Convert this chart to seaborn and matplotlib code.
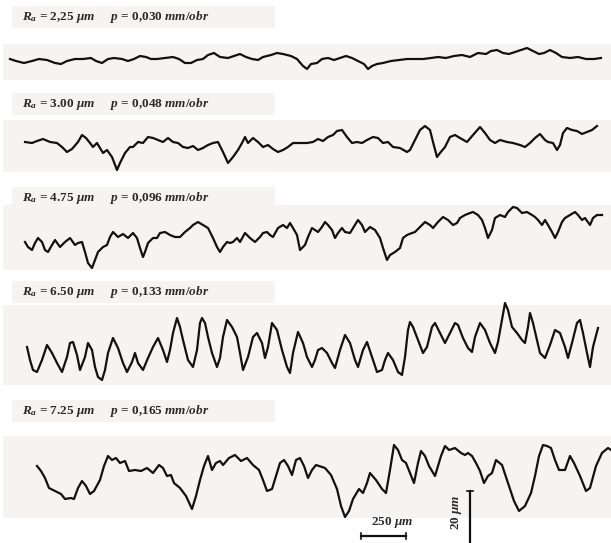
import matplotlib
matplotlib.use('Agg')
import matplotlib.pyplot as plt
import seaborn as sns
import pandas as pd

# surface profile traces (pixel units: position, trace height)
labels = [
    r'$R_a$ = 2,25 $\mu m$     $p$ = 0,030 $mm/obr$',
    r'$R_a$ = 3.00 $\mu m$     $p$ = 0,048 $mm/obr$',
    r'$R_a$ = 4.75 $\mu m$     $p$ = 0,096 $mm/obr$',
    r'$R_a$ = 6.50 $\mu m$     $p$ = 0,133 $mm/obr$',
    r'$R_a$ = 7.25 $\mu m$     $p$ = 0,165 $mm/obr$',
]
label_y = [17, 104, 198, 292, 411]

p1_x = [10, 16, 24, 32, 39, 47, 55, 61, 67, 75, 83, 91, 96, 102, 108, 114, 122, 128, 134, 140,
        146, 151, 157, 165, 173, 179, 185, 191, 197, 203, 208, 214, 220, 228, 234, 240, 246, 252,
        258, 263, 271, 277, 283, 291, 297, 303, 307, 311, 317, 322, 328, 334, 340, 346, 352, 358,
        364, 368, 372, 377, 383, 391, 399, 407, 415, 423, 431, 438, 446, 454, 462, 470, 478, 486,
        491, 497, 503, 509, 515, 521, 527, 533, 539, 544, 550, 556, 562, 570, 578, 586, 594, 601]
p1_y = [59, 61, 63, 61, 59, 60, 63, 64, 61, 59, 59, 58, 61, 63, 59, 58, 59, 61, 59, 56,
        57, 59, 59, 58, 57, 59, 63, 63, 60, 59, 55, 53, 57, 58, 56, 54, 57, 59,
        60, 57, 55, 53, 54, 56, 59, 66, 69, 64, 63, 59, 58, 60, 58, 56, 58, 61,
        64, 69, 66, 64, 63, 61, 60, 59, 59, 59, 58, 57, 58, 56, 55, 57, 53, 54,
        51, 50, 53, 54, 52, 50, 48, 51, 54, 53, 50, 53, 57, 58, 57, 59, 59, 58]

p2_x = [25, 32, 37, 43, 50, 57, 62, 67, 72, 78, 82, 86, 90, 93, 97, 100, 103, 107, 112, 117,
        120, 125, 130, 133, 138, 143, 148, 153, 158, 163, 168, 173, 178, 183, 188, 193, 198, 203,
        208, 213, 218, 223, 228, 233, 238, 242, 245, 248, 253, 258, 263, 268, 273, 278, 283, 288,
        293, 300, 307, 313, 318, 323, 328, 333, 337, 342, 347, 352, 357, 362, 367, 373, 378, 383,
        388, 393, 400, 407, 410, 415, 420, 425, 430, 433, 437, 440, 445, 450, 455, 460, 467, 473,
        480, 485, 490, 495, 500, 507, 513, 520, 525, 530, 535, 540, 545, 548, 553, 557, 560, 563,
        567, 572, 577, 582, 587, 592, 597]
p2_y = [142, 143, 141, 139, 142, 143, 147, 152, 149, 142, 135, 138, 143, 147, 143, 148, 153, 150, 157, 170,
        163, 153, 147, 147, 142, 143, 137, 138, 140, 142, 138, 142, 143, 147, 148, 146, 150, 148,
        145, 143, 142, 152, 163, 157, 150, 143, 137, 143, 138, 142, 147, 145, 149, 152, 150, 147,
        143, 143, 143, 142, 139, 141, 137, 135, 131, 130, 137, 143, 142, 143, 140, 137, 138, 143,
        142, 147, 148, 152, 150, 140, 130, 126, 130, 142, 157, 153, 147, 137, 135, 138, 142, 135,
        127, 133, 140, 143, 140, 142, 143, 145, 147, 143, 138, 134, 140, 142, 143, 150, 145, 133,
        128, 130, 131, 134, 132, 130, 126]

p3_x = [25, 28, 32, 35, 38, 42, 45, 48, 52, 55, 60, 65, 70, 75, 78, 82, 85, 88, 92, 95,
        98, 103, 107, 110, 113, 118, 123, 128, 133, 137, 140, 143, 145, 148, 153, 157, 160, 165,
        170, 175, 180, 185, 190, 193, 198, 203, 208, 213, 217, 220, 223, 227, 230, 233, 237, 240,
        245, 250, 255, 260, 263, 267, 270, 273, 278, 283, 287, 290, 293, 297,
        300, 305, 308, 312, 315, 318, 322, 325, 328, 332, 335, 338, 342, 345, 350, 355, 358, 362,
        365, 370, 375, 380, 383, 387, 390, 395, 400, 403, 407, 412, 415, 420, 425, 430, 433, 438,
        443, 448, 453, 457, 460, 465, 470, 473, 478, 482, 485, 488, 492, 495, 500, 505, 508, 513,
        517, 522, 527, 532, 535, 538, 542, 545, 548, 552, 555, 558, 562, 565, 570, 575, 578, 582,
        585, 590, 593, 597, 602]
p3_y = [242, 247, 250, 243, 238, 242, 250, 252, 245, 240, 247, 242, 238, 245, 243, 242, 252, 263, 268, 260,
        252, 247, 245, 237, 232, 237, 234, 238, 233, 238, 248, 257, 252, 243, 238, 238, 233, 232,
        235, 237, 237, 232, 228, 225, 222, 225, 228, 238, 247, 252, 247, 242, 243, 242, 238, 242,
        233, 238, 242, 237, 233, 232, 235, 237, 228, 225, 228, 223, 228, 235,
        250, 245, 237, 228, 230, 232, 227, 222, 225, 230, 238, 233, 228, 232, 233, 225, 220, 225,
        232, 227, 230, 238, 248, 260, 255, 252, 248, 238, 235, 233, 232, 227, 222, 225, 228, 222,
        217, 220, 225, 223, 218, 215, 213, 212, 215, 220, 228, 238, 230, 218, 215, 217, 212, 207,
        208, 213, 212, 215, 217, 220, 225, 220, 225, 232, 238, 232, 222, 218, 215, 212, 215, 220,
        218, 225, 218, 215, 215]

p4_x = [27, 30, 33, 37, 42, 47, 52, 57, 62, 67, 70, 73, 77, 80, 85, 88, 92, 95, 98, 102,
        105, 108, 113, 118, 123, 127, 132, 135, 138, 143, 148, 153, 158, 163, 167, 170, 173, 177,
        180, 183, 188, 193, 197, 200, 202, 205, 208, 212, 217, 220, 223, 227, 232, 237, 240, 243,
        248, 253, 257, 262, 265, 268, 272, 277, 282, 287, 290, 293, 298,
        303, 307, 312, 315, 318, 322, 327, 332, 335, 340, 345, 350, 355, 358, 363, 367, 372, 377,
        382, 385, 388, 393, 398, 402, 405, 408, 410, 413, 418, 423, 427, 432, 435, 440, 445, 450,
        455, 458, 463, 468, 472, 475, 480, 485, 490, 495, 498, 502, 505, 508, 512, 517, 522, 525,
        528, 530, 533, 537, 540, 545, 550, 555, 560, 565, 568, 572, 577, 580, 583, 587, 590, 593,
        598]
p4_y = [347, 360, 370, 372, 360, 345, 353, 363, 372, 357, 343, 342, 355, 370, 357, 343, 350, 367, 377, 380,
        370, 353, 338, 348, 363, 372, 362, 353, 363, 370, 358, 347, 338, 350, 362, 350, 333, 318,
        327, 340, 360, 367, 350, 323, 318, 323, 337, 353, 367, 358, 337, 320, 327, 337, 353, 370,
        357, 337, 333, 343, 358, 347, 323, 330, 350, 367, 373, 353, 332,
        343, 357, 367, 360, 350, 348, 353, 363, 368, 350, 335, 343, 360, 367, 350, 342, 357, 372,
        370, 360, 353, 360, 372, 375, 357, 330, 322, 327, 340, 353, 347, 327, 323, 333, 343, 333,
        323, 325, 338, 348, 352, 337, 323, 330, 343, 353, 342, 320, 303, 310, 327, 333, 340, 343,
        327, 313, 323, 340, 353, 358, 345, 330, 333, 347, 358, 343, 323, 320, 333, 353, 367, 347,
        328]

p5_x = [37, 41, 45, 49, 55, 61, 65, 71, 74, 78, 82, 86, 90, 94, 100, 104, 108, 112, 116, 120,
        125, 129, 135, 141, 147, 153, 159, 163, 167, 171, 174, 180, 186, 192, 196, 200, 204, 208,
        212, 216, 220, 223, 229, 235, 241, 247, 253, 259, 263, 267, 272, 276, 280, 284, 288, 292,
        296, 300, 304, 308, 312, 316, 319, 325, 331, 337, 341, 345, 349, 353, 359, 363, 367, 370,
        376, 382, 386, 390, 394, 398, 402, 406, 410, 414, 418, 421, 425, 429, 435, 441, 445, 449,
        455, 461, 465, 468, 472, 476, 480, 484, 488, 492, 496, 502, 508, 514, 519, 525, 531, 535,
        539, 543, 547, 551, 555, 559, 565, 570, 574, 580, 586, 590, 596, 602, 608, 611]
p5_y = [466, 471, 478, 488, 491, 494, 499, 498, 499, 488, 481, 486, 494, 491, 480, 466, 456, 460, 458, 463,
        461, 471, 470, 471, 468, 473, 465, 468, 476, 475, 483, 488, 496, 509, 496, 480, 466, 456,
        470, 463, 461, 465, 458, 455, 461, 458, 465, 470, 480, 491, 489, 476, 463, 460, 466, 475,
        460, 458, 466, 478, 470, 465, 466, 468, 475, 489, 506, 517, 511, 499, 489, 493, 483, 473,
        480, 489, 493, 470, 445, 450, 460, 463, 473, 483, 463, 451, 456, 466, 476, 456, 446, 450,
        448, 453, 455, 453, 456, 463, 471, 483, 476, 473, 460, 465, 483, 501, 511, 506, 493, 476,
        456, 445, 446, 448, 460, 470, 470, 456, 463, 476, 491, 488, 466, 453, 448, 450]

profiles = [(p1_x, p1_y), (p2_x, p2_y), (p3_x, p3_y), (p4_x, p4_y), (p5_x, p5_y)]

bar_um_x = 250
bar_um_y = 20
px_per_um_x = 45 / 250
px_per_um_y = 52 / 20


def main():
    plt.rcParams['mathtext.fontset'] = 'custom'
    plt.rcParams['mathtext.rm'] = 'Liberation Serif:bold'
    plt.rcParams['mathtext.it'] = 'Liberation Serif:bold:italic'

    fig = plt.figure(figsize=(6.11, 5.43), dpi=100)
    ax = fig.add_axes([0, 0, 1, 1])

    # faint scan-like bands behind traces, and shorter ones behind the labels
    trace_bands = [(44, 80), (120, 172), (205, 270), (305, 385), (436, 518)]
    for top, bot in trace_bands:
        ax.axhspan(top, bot, xmin=0.005, xmax=1, color='#f5f4f2', lw=0, zorder=0)
    for ly in label_y:
        ax.axhspan(ly - 11, ly + 11, xmin=0.02, xmax=0.45, color='#f5f4f2', lw=0, zorder=0)

    for (xs, ys), lab, ly in zip(profiles, labels, label_y):
        df = pd.DataFrame({'x': xs, 'y': ys})
        sns.lineplot(data=df, x='x', y='y', ax=ax, color='#111111', lw=1.6,
                     sort=False, estimator=None)
        ax.text(22, ly, lab, fontsize=9.5, fontfamily='Liberation Serif',
                fontweight='bold', color='#2a2a2a', va='center', ha='left')

    # scale bars
    hx0 = 361
    hx1 = hx0 + bar_um_x * px_per_um_x
    hy = 536
    ax.plot([hx0, hx1], [hy, hy], color='#111111', lw=1.6)
    ax.plot([hx0, hx0], [hy - 3, hy + 3], color='#111111', lw=1.2)
    ax.plot([hx1, hx1], [hy - 3, hy + 3], color='#111111', lw=1.2)
    ax.text((hx0 + hx1) / 2 + 9, 522, r'250 $\mu m$', fontsize=9.5, ha='center', va='center',
            fontfamily='Liberation Serif', fontweight='bold', color='#2a2a2a')

    vx = 470
    vy1 = 543
    vy0 = vy1 - bar_um_y * px_per_um_y
    ax.plot([vx, vx], [vy0, vy1], color='#111111', lw=1.6)
    ax.plot([vx - 3, vx + 3], [vy0, vy0], color='#111111', lw=1.2)
    ax.text(456, 512, r'20 $\mu m$', fontsize=9.5, ha='center', va='center', rotation=90,
            fontfamily='Liberation Serif', fontweight='bold', color='#2a2a2a')

    ax.set_xlim(0, 611)
    ax.set_ylim(543, 0)
    ax.axis('off')
    fig.savefig('out.png', dpi=100)


if __name__ == '__main__':
    main()
